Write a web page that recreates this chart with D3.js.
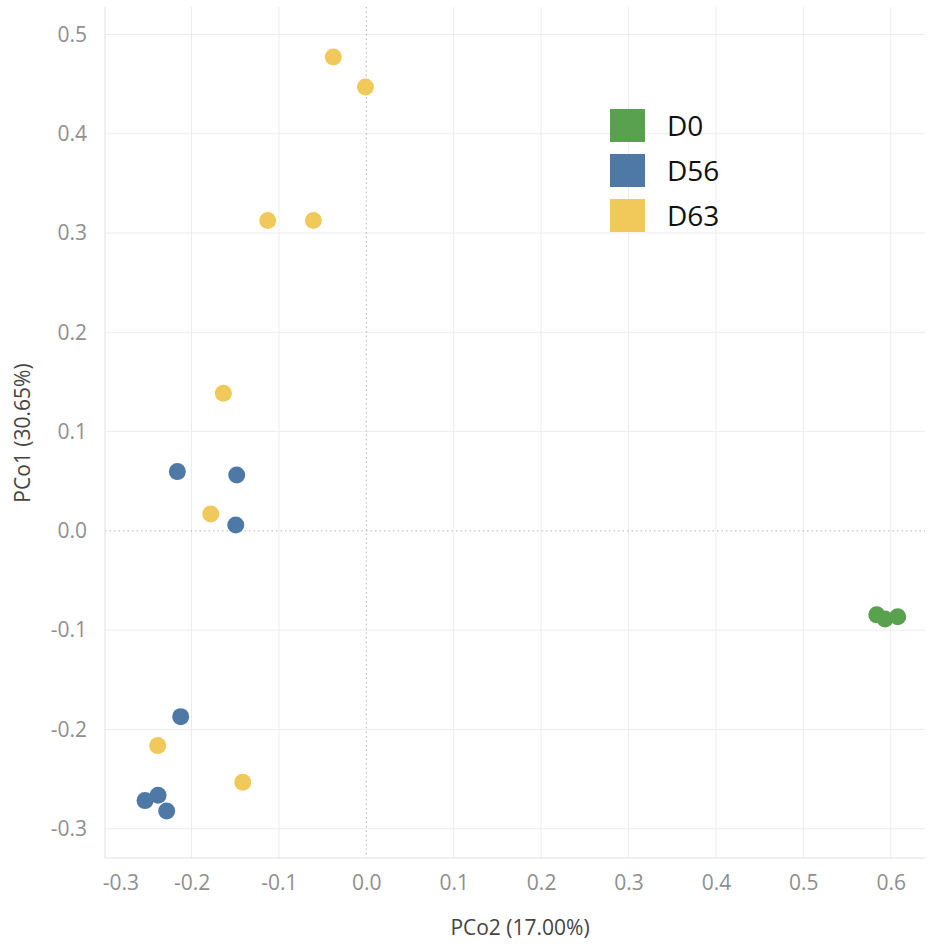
<!DOCTYPE html>
<html>
<head>
<meta charset="utf-8">
<script src="https://cdn.jsdelivr.net/npm/d3@7"></script>
<style>
  html, body { margin: 0; padding: 0; background: #fff; }
  svg { display: block; }
  text { font-family: "Open Sans", "DejaVu Sans", sans-serif; }
</style>
</head>
<body>
<svg id="chart" width="933" height="944"></svg>
<script>
// ---- Data ----
const groups = ["D0", "D56", "D63"];
const groupColors = ["#59a14f", "#4e79a7", "#f1c85a"];

const d0X = [0.584, 0.5935, 0.608];
const d0Y = [-0.0846, -0.0887, -0.0866];

const d56X = [-0.2162, -0.1483, -0.1494, -0.2124, -0.2383, -0.2532, -0.2284];
const d56Y = [0.0597, 0.0564, 0.006, -0.1871, -0.2663, -0.2717, -0.2821];

const d63X = [-0.0378, -0.001, -0.1128, -0.0606, -0.1636, -0.178, -0.2387, -0.1414];
const d63Y = [0.4773, 0.4471, 0.3126, 0.3126, 0.1387, 0.0171, -0.2163, -0.2532];

const xTicks = [-0.3, -0.2, -0.1, 0.0, 0.1, 0.2, 0.3, 0.4, 0.5, 0.6];
const yTicks = [0.5, 0.4, 0.3, 0.2, 0.1, 0.0, -0.1, -0.2, -0.3];
const xTitle = "PCo2 (17.00%)";
const yTitle = "PCo1 (30.65%)";

// ---- Layout ----
const svg = d3.select("#chart");
const pLeft = 105, pRight = 925, pTop = 7, pBottom = 858;

const x = d3.scaleLinear().domain([-0.299, 0.6392]).range([pLeft, pRight]);
const y = d3.scaleLinear().domain([-0.3295, 0.5277]).range([pBottom, pTop]);

const locale = d3.formatLocale({ decimal: ".", thousands: ",", grouping: [3], currency: ["", ""], minus: "-" });
const fmt = locale.format(".1f");

// gridlines
const g = svg.append("g");
g.selectAll(".vgrid").data(xTicks.filter(t => t !== 0 && t !== -0.3)).enter()
  .append("line")
  .attr("x1", d => x(d)).attr("x2", d => x(d))
  .attr("y1", pTop).attr("y2", pBottom)
  .attr("stroke", "#ececec").attr("stroke-width", 1);
g.selectAll(".hgrid").data(yTicks.filter(t => t !== 0)).enter()
  .append("line")
  .attr("x1", pLeft).attr("x2", pRight)
  .attr("y1", d => y(d)).attr("y2", d => y(d))
  .attr("stroke", "#ececec").attr("stroke-width", 1);

// zero lines (dotted)
g.append("line")
  .attr("x1", x(0)).attr("x2", x(0)).attr("y1", pTop).attr("y2", pBottom)
  .attr("stroke", "#b5b5b5").attr("stroke-width", 1).attr("stroke-dasharray", "1.5,3");
g.append("line")
  .attr("x1", pLeft).attr("x2", pRight).attr("y1", y(0)).attr("y2", y(0))
  .attr("stroke", "#b5b5b5").attr("stroke-width", 1).attr("stroke-dasharray", "1.5,3");

// axis lines
g.append("line").attr("x1", pLeft).attr("x2", pLeft).attr("y1", pTop).attr("y2", pBottom)
  .attr("stroke", "#e0e0e0");
g.append("line").attr("x1", pLeft).attr("x2", pRight).attr("y1", pBottom).attr("y2", pBottom)
  .attr("stroke", "#e0e0e0");

// axes via d3 axis generators (styled)
const xAxis = d3.axisBottom(x).tickValues(xTicks).tickFormat(fmt).tickSize(0).tickPadding(17);
const xg = svg.append("g").attr("transform", `translate(0,${pBottom})`).call(xAxis);
xg.select(".domain").remove();
xg.selectAll("text")
  .attr("font-size", 21).attr("fill", "#8f8f8f")
  .attr("font-family", "'Open Sans', sans-serif")
  .attr("text-anchor", d => d === -0.3 ? "start" : "middle")
  .attr("dx", d => d === -0.3 ? "-2" : "0");

const yAxis = d3.axisLeft(y).tickValues(yTicks).tickFormat(fmt).tickSize(0).tickPadding(18);
const yg = svg.append("g").attr("transform", `translate(${pLeft},0)`).call(yAxis);
yg.select(".domain").remove();
yg.selectAll("text")
  .attr("font-size", 21).attr("fill", "#8f8f8f")
  .attr("font-family", "'Open Sans', sans-serif");

// axis titles
svg.append("text").attr("x", 520).attr("y", 935).attr("text-anchor", "middle")
  .attr("font-size", 21).attr("fill", "#444").text(xTitle);
svg.append("text").attr("transform", "translate(30,433) rotate(-90)")
  .attr("text-anchor", "middle").attr("font-size", 21).attr("fill", "#444").text(yTitle);

// points
const series = [
  { name: "D63", xs: d63X, ys: d63Y },
  { name: "D56", xs: d56X, ys: d56Y },
  { name: "D0", xs: d0X, ys: d0Y }
];
const color = d3.scaleOrdinal().domain(groups).range(groupColors);
series.forEach(s => {
  const pts = s.xs.map((v, i) => ({ x: v, y: s.ys[i] }));
  svg.append("g").selectAll("circle").data(pts).enter()
    .append("circle")
    .attr("cx", d => x(d.x)).attr("cy", d => y(d.y))
    .attr("r", 8.5)
    .attr("fill", color(s.name));
});

// legend
const leg = svg.append("g").attr("transform", "translate(610,109)");
groups.forEach((name, i) => {
  const row = leg.append("g").attr("transform", `translate(0,${i * 45})`);
  row.append("rect").attr("width", 35).attr("height", 33).attr("fill", color(name));
  row.append("text").attr("x", 57).attr("y", 16.5).attr("dy", "0.36em")
    .attr("font-size", 28).attr("fill", "#111").text(name);
});
</script>
</body>
</html>
